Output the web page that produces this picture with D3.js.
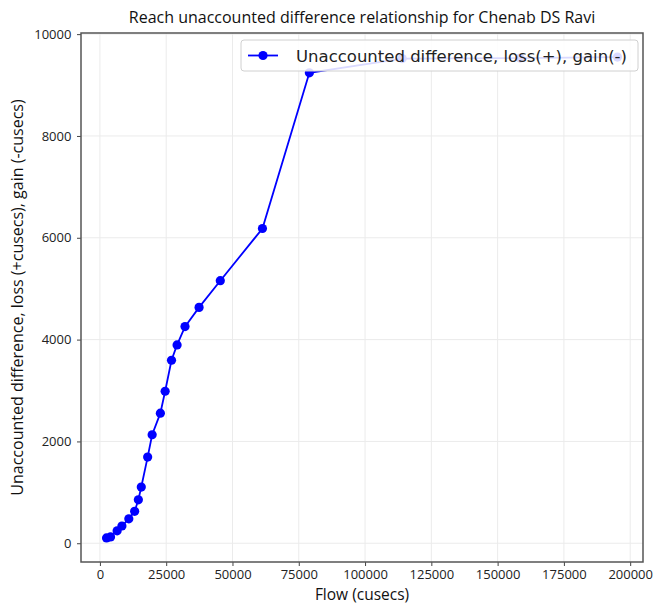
<!DOCTYPE html>
<html>
<head>
<meta charset="utf-8">
<script src="https://cdn.jsdelivr.net/npm/d3@7"></script>
<style>
  html, body { margin: 0; padding: 0; background: #fff; }
  svg { display: block; }
</style>
</head>
<body>
<svg id="chart" width="654" height="605"></svg>
<script>
// ---- data ----
const flow = [2500, 4000, 6500, 8300, 10900, 13100, 14500, 15600, 18000, 19700, 22800, 24600, 27000, 29100, 32100, 37400, 45400, 61300, 79000, 114000, 158500, 195200];
const diff = [104, 124, 245, 339, 480, 627, 853, 1104, 1692, 2131, 2555, 2986, 3594, 3896, 4255, 4633, 5157, 6182, 9240, 9520, 9530, 9550];
const xTicks = [0, 25000, 50000, 75000, 100000, 125000, 150000, 175000, 200000];
const yTicks = [0, 2000, 4000, 6000, 8000, 10000];
const titleText = "Reach unaccounted difference relationship for Chenab DS Ravi";
const xLabel = "Flow (cusecs)";
const yLabel = "Unaccounted difference, loss (+cusecs), gain (-cusecs)";
const legendLabel = "Unaccounted difference, loss(+), gain(-)";

const points = flow.map((f, i) => ({ x: f, y: diff[i] }));

const svg = d3.select("#chart");
const margin = { left: 81, right: 11, top: 33, bottom: 43 };
const W = 654, H = 605;
const pw = W - margin.left - margin.right;
const ph = H - margin.top - margin.bottom;

function padded(ext) {
  const r = ext[1] - ext[0];
  return [ext[0] - 0.05 * r, ext[1] + 0.05 * r];
}
const x = d3.scaleLinear().domain(padded(d3.extent(flow))).range([0, pw]);
const y = d3.scaleLinear().domain(padded(d3.extent(diff))).range([ph, 0]);

const font = "'Open Sans', 'Segoe UI', sans-serif";
const g = svg.append("g").attr("transform", `translate(${margin.left},${margin.top})`);

// grid
g.append("g").selectAll("line.vx").data(xTicks).join("line")
  .attr("x1", d => x(d)).attr("x2", d => x(d)).attr("y1", 0).attr("y2", ph)
  .attr("stroke", "#ebebeb").attr("stroke-width", 1);
g.append("g").selectAll("line.hy").data(yTicks).join("line")
  .attr("y1", d => y(d)).attr("y2", d => y(d)).attr("x1", 0).attr("x2", pw)
  .attr("stroke", "#ebebeb").attr("stroke-width", 1);

// axes
const xAxis = g.append("g").attr("transform", `translate(0,${ph})`)
  .call(d3.axisBottom(x).tickValues(xTicks).tickFormat(d3.format("d")).tickSize(4).tickSizeOuter(0));
const yAxis = g.append("g")
  .call(d3.axisLeft(y).tickValues(yTicks).tickFormat(d3.format("d")).tickSize(4).tickSizeOuter(0));
[xAxis, yAxis].forEach(a => {
  a.select(".domain").remove();
  a.selectAll(".tick line").attr("stroke", "#444").attr("stroke-width", 1);
  a.selectAll(".tick text").attr("fill", "#222").style("font-family", font).style("font-size", "13px");
});
xAxis.selectAll(".tick text").attr("dy", "0.8em");
yAxis.selectAll(".tick text").attr("dx", "-0.2em");

// line + markers
const lineGen = d3.line().x(d => x(d.x)).y(d => y(d.y));
g.append("path").datum(points).attr("d", lineGen)
  .attr("fill", "none").attr("stroke", "#0000ff").attr("stroke-width", 1.8);
g.append("g").selectAll("circle").data(points).join("circle")
  .attr("cx", d => x(d.x)).attr("cy", d => y(d.y)).attr("r", 4.6)
  .attr("fill", "#0000ff");

// frame
g.append("rect").attr("x", 0).attr("y", 0).attr("width", pw).attr("height", ph)
  .attr("fill", "none").attr("stroke", "#555").attr("stroke-width", 1.5);

// legend
const lg = g.append("g").attr("transform", `translate(${241 - margin.left},${40 - margin.top})`);
lg.append("rect").attr("width", 397).attr("height", 31).attr("rx", 3)
  .attr("fill", "rgba(255,255,255,0.85)").attr("stroke", "#d0d0d0").attr("stroke-width", 1);
lg.append("line").attr("x1", 7).attr("x2", 37).attr("y1", 15.5).attr("y2", 15.5)
  .attr("stroke", "#0000ff").attr("stroke-width", 1.8);
lg.append("circle").attr("cx", 22).attr("cy", 15.5).attr("r", 4.6).attr("fill", "#0000ff");
lg.append("text").attr("x", 55).attr("y", 21.5).text(legendLabel)
  .style("font-family", "'DejaVu Sans', sans-serif").style("font-size", "16.5px").attr("fill", "#222");

// title
svg.append("text").attr("x", margin.left + pw / 2).attr("y", 23).attr("text-anchor", "middle")
  .text(titleText).style("font-family", font).style("font-size", "16px").attr("fill", "#111");
// x label
svg.append("text").attr("x", margin.left + pw / 2).attr("y", 600).attr("text-anchor", "middle")
  .text(xLabel).style("font-family", font).style("font-size", "15.5px").attr("fill", "#111");
// y label
svg.append("text").attr("transform", `translate(23,${margin.top + ph / 2}) rotate(-90)`)
  .attr("text-anchor", "middle")
  .text(yLabel).style("font-family", font).style("font-size", "16px").attr("fill", "#111");
</script>
</body>
</html>
